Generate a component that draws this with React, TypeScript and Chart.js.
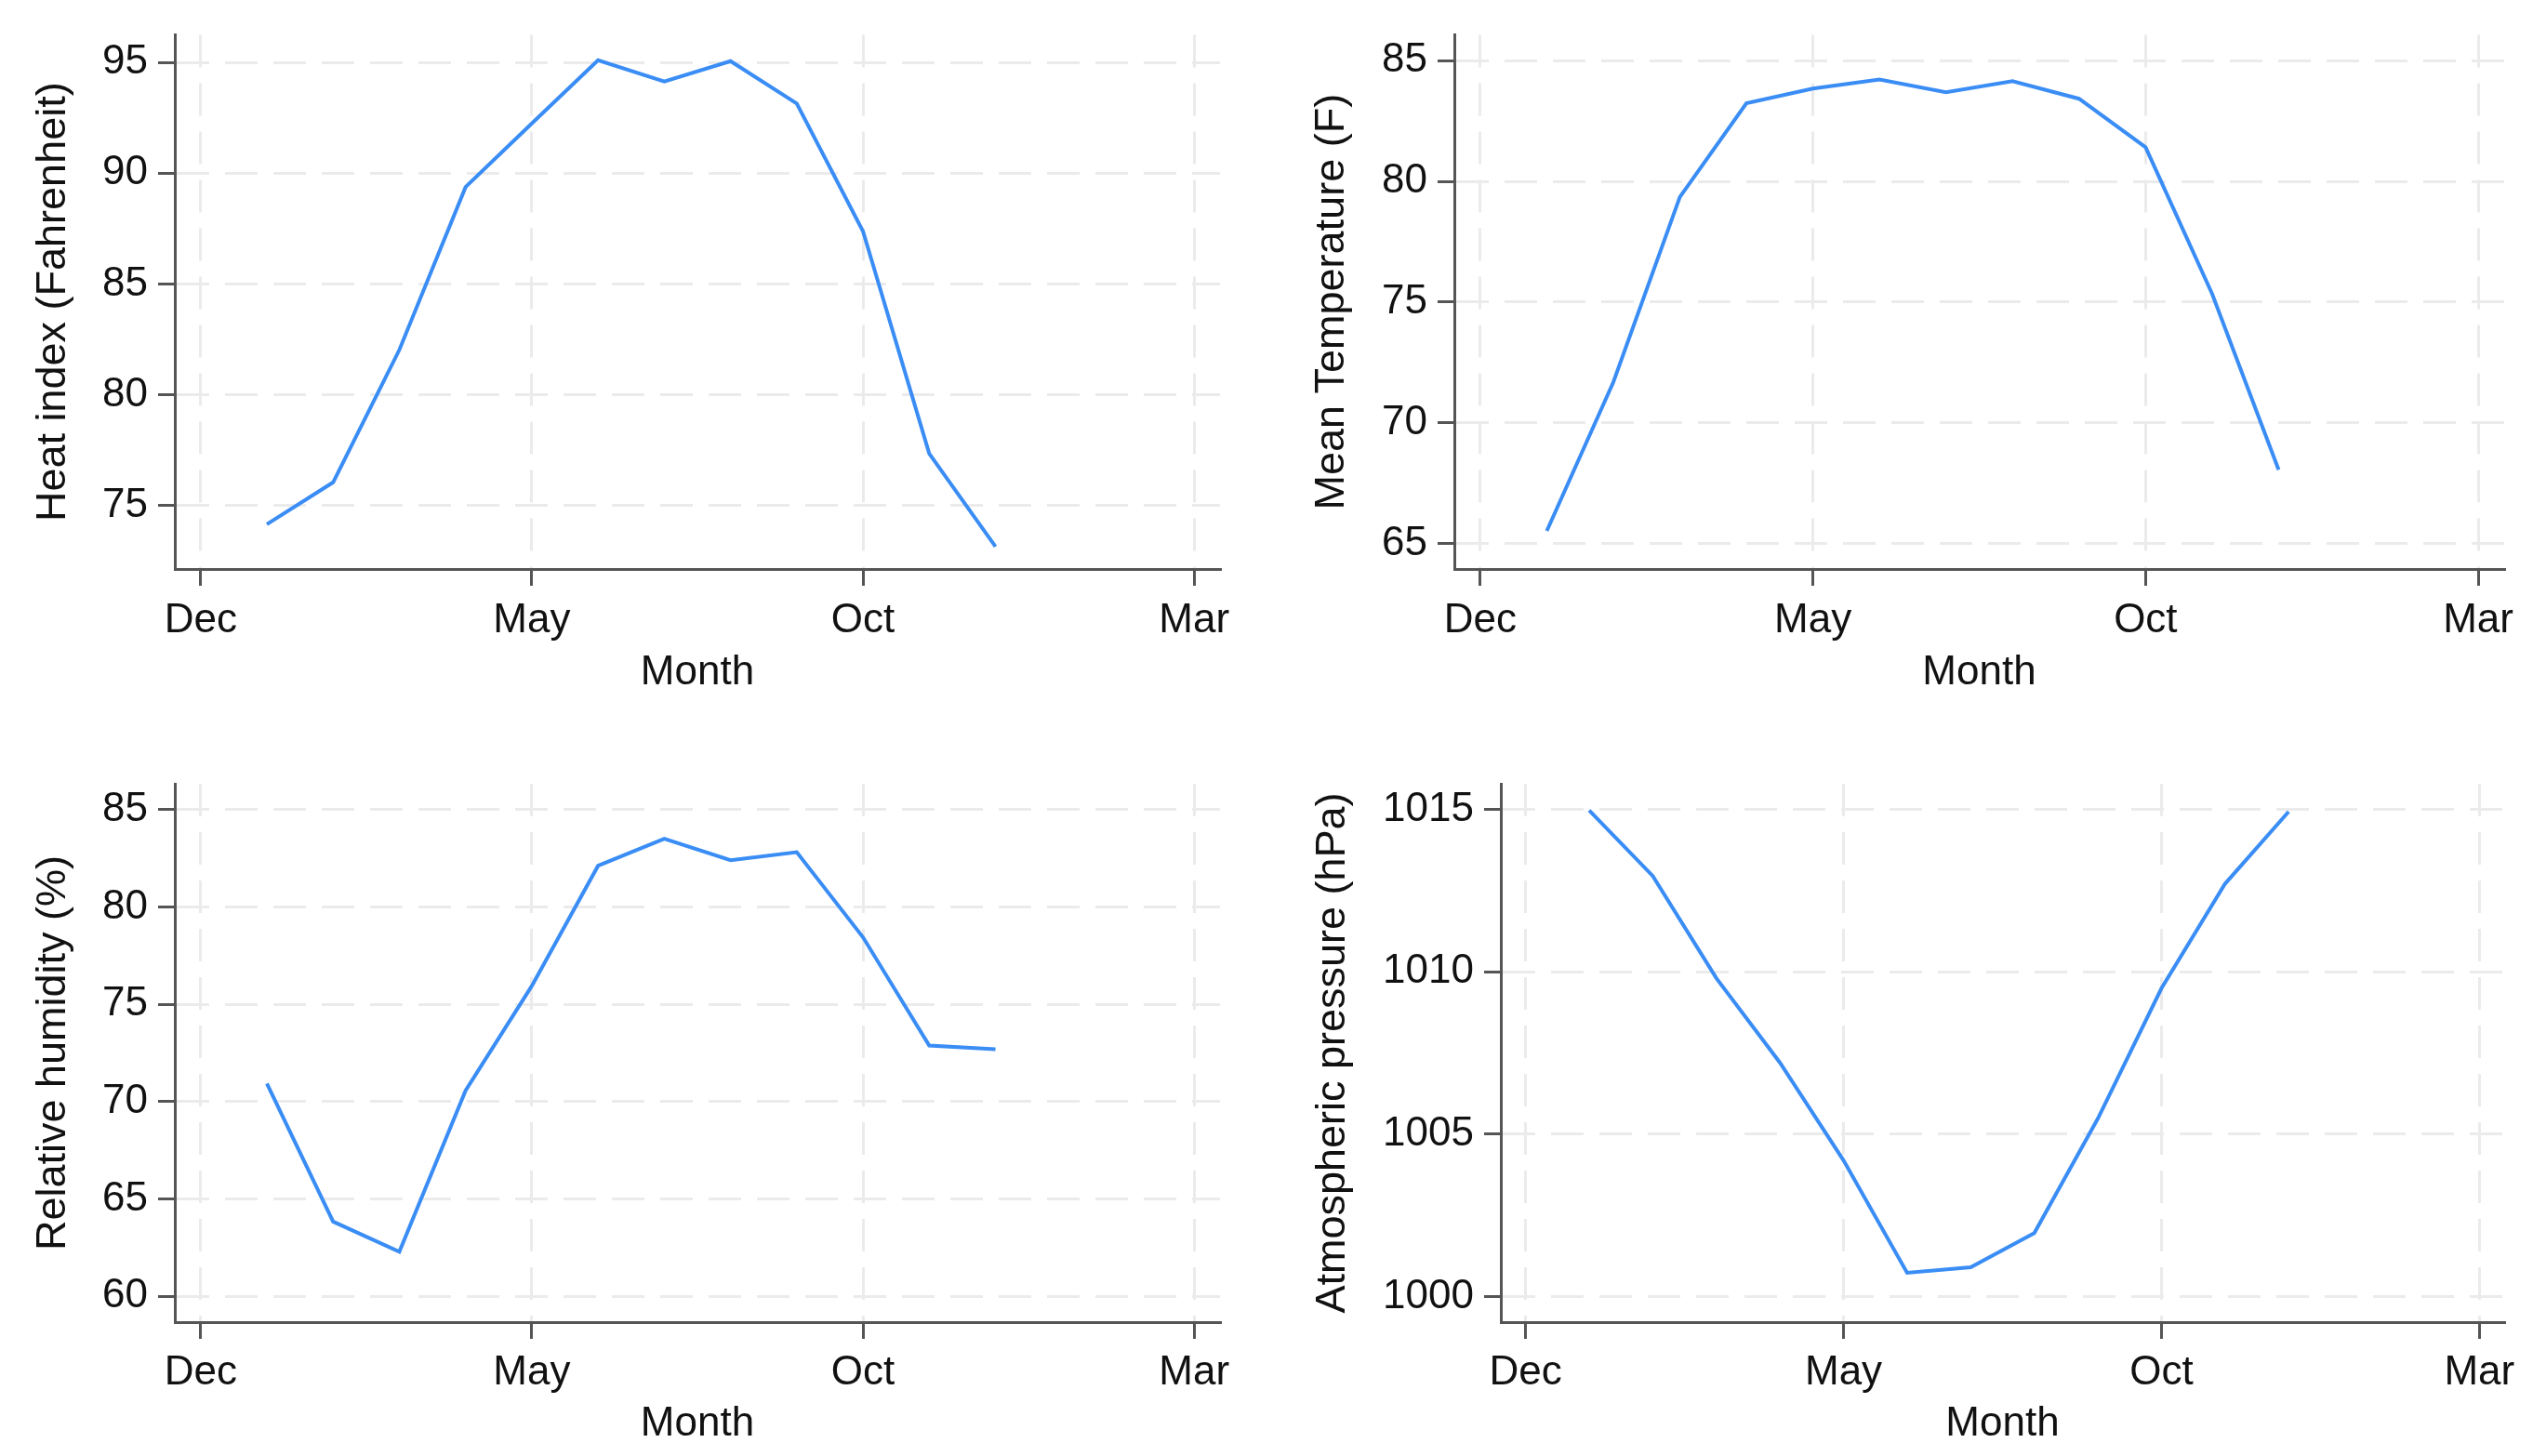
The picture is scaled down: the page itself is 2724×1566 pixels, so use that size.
import React, { useEffect, useRef } from 'react';
import { Chart, registerables } from 'chart.js';

Chart.register(...registerables);

// Month positions: Dec = 0, Jan = 1, ... Dec(next) = 12
const monthPositions = [1, 2, 3, 4, 5, 6, 7, 8, 9, 10, 11, 12];
const xTickValues = [0, 5, 10, 15];
const xTickLabels = ['Dec', 'May', 'Oct', 'Mar'];

const heatIndex = [74.16, 76.05, 82.03, 89.38, 92.25, 95.1, 94.14, 95.06, 93.15, 87.38, 77.35, 73.15];
const meanTemp = [65.52, 71.68, 79.35, 83.23, 83.84, 84.22, 83.69, 84.15, 83.42, 81.41, 75.34, 68.05];
const humidity = [70.93, 63.84, 62.29, 70.57, 75.94, 82.11, 83.5, 82.4, 82.81, 78.44, 72.88, 72.69];
const pressure = [1014.97, 1012.95, 1009.8, 1007.2, 1004.19, 1000.73, 1000.9, 1001.95, 1005.48, 1009.49, 1012.71, 1014.93];

const heatTicks = [75, 80, 85, 90, 95];
const tempTicks = [65, 70, 75, 80, 85];
const humidityTicks = [60, 65, 70, 75, 80, 85];
const pressureTicks = [1000, 1005, 1010, 1015];

const LINE = '#3a8df5';
const GRID = '#ebebeb';
const AXIS = '#555555';
const TEXT = '#111111';
const FONT = "'Liberation Sans', Arial, sans-serif";

type Spec = {
  values: number[];
  yTicks: number[];
  yMin: number;
  yMax: number;
  yTitle: string;
  cx: number; cy: number; cw: number; ch: number;
  left: number; top: number; right: number; bottom: number;
  yTitleX: number;
  xTitleY: number;
  xTickPad: number;
};

const specs: Spec[] = [
  {
    values: heatIndex, yTicks: heatTicks, yMin: 72.14, yMax: 96.25, yTitle: 'Heat index (Fahrenheit)',
    cx: 0, cy: 0, cw: 1362, ch: 783,
    left: 188, top: 33, right: 1312, bottom: 612,
    yTitleX: 58, xTitleY: 724, xTickPad: 11,
  },
  {
    values: meanTemp, yTicks: tempTicks, yMin: 63.94, yMax: 86.07, yTitle: 'Mean Temperature (F)',
    cx: 1362, cy: 0, cw: 1362, ch: 783,
    left: 1564, top: 33, right: 2693, bottom: 612,
    yTitleX: 1433, xTitleY: 724, xTickPad: 11,
  },
  {
    values: humidity, yTicks: humidityTicks, yMin: 58.68, yMax: 86.32, yTitle: 'Relative humidity (%)',
    cx: 0, cy: 783, cw: 1362, ch: 783,
    left: 188, top: 843, right: 1312, bottom: 1422,
    yTitleX: 58, xTitleY: 1532, xTickPad: 10,
  },
  {
    values: pressure, yTicks: pressureTicks, yMin: 999.21, yMax: 1015.79, yTitle: 'Atmospheric pressure (hPa)',
    cx: 1362, cy: 783, cw: 1362, ch: 783,
    left: 1614, top: 843, right: 2693, bottom: 1422,
    yTitleX: 1434, xTitleY: 1532, xTickPad: 10,
  },
];

function Panel({ spec }: { spec: Spec }) {
  const ref = useRef<HTMLCanvasElement | null>(null);
  useEffect(() => {
    const s = spec;
    if (!ref.current) return;
    const tickFont = { family: FONT, size: 44 };
    const chart = new Chart(ref.current, {
      type: 'line',
      data: {
        datasets: [
          {
            data: s.values.map((v, i) => ({ x: monthPositions[i], y: v })),
            borderColor: LINE,
            borderWidth: 4,
            pointRadius: 0,
            fill: false,
            tension: 0,
          },
        ],
      },
      options: {
        animation: false,
        responsive: false,
        maintainAspectRatio: false,
        devicePixelRatio: 1,
        layout: {
          padding: { top: s.top - s.cy, right: s.cx + s.cw - s.right, left: 0, bottom: 0 },
        },
        plugins: { legend: { display: false }, tooltip: { enabled: false } },
        scales: {
          x: {
            type: 'linear',
            position: 'bottom',
            min: -0.39,
            max: 15.39,
            afterBuildTicks: (sc: any) => {
              sc.ticks = xTickValues.map((v) => ({ value: v }));
            },
            afterFit: (sc: any) => {
              sc.height = s.cy + s.ch - s.bottom;
            },
            ticks: {
              callback: (v: any) => {
                const i = xTickValues.indexOf(Number(v));
                return i >= 0 ? xTickLabels[i] : '';
              },
              font: tickFont,
              color: TEXT,
              padding: s.xTickPad,
              maxRotation: 0,
              autoSkip: false,
            },
            grid: {
              color: GRID,
              lineWidth: 3,
              tickColor: AXIS,
              tickLength: 18,
              tickWidth: 3,
              tickBorderDash: [],
            } as any,
            border: { color: AXIS, width: 3, dash: [35, 17] },
            title: {
              display: true,
              text: 'Month',
              color: TEXT,
              font: { family: FONT, size: 44, lineHeight: 1 },
              padding: { top: 0, bottom: s.cy + s.ch - s.xTitleY - 22 },
            },
          },
          y: {
            type: 'linear',
            min: s.yMin,
            max: s.yMax,
            afterBuildTicks: (sc: any) => {
              sc.ticks = s.yTicks.map((v) => ({ value: v }));
            },
            afterFit: (sc: any) => {
              sc.width = s.left - s.cx;
            },
            ticks: {
              callback: (v: any) => String(v),
              font: tickFont,
              color: TEXT,
              padding: 11,
              autoSkip: false,
            },
            grid: {
              color: GRID,
              lineWidth: 3,
              tickColor: AXIS,
              tickLength: 18,
              tickWidth: 3,
              tickBorderDash: [],
            } as any,
            border: { color: AXIS, width: 3, dash: [35, 17] },
            title: {
              display: true,
              text: s.yTitle,
              color: TEXT,
              font: { family: FONT, size: 45, lineHeight: 1 },
              padding: { top: s.yTitleX - s.cx - 22.5, bottom: 0 },
            },
          },
        },
      },
    } as any);
    return () => chart.destroy();
  }, [spec]);
  return (
    <canvas
      ref={ref}
      width={spec.cw}
      height={spec.ch}
      style={{ position: 'absolute', left: spec.cx, top: spec.cy, width: spec.cw, height: spec.ch }}
    />
  );
}

export default function App() {
  return (
    <div style={{ position: 'fixed', left: 0, top: 0, width: 2724, height: 1566, background: '#ffffff' }}>
      {specs.map((s, i) => (
        <Panel key={i} spec={s} />
      ))}
    </div>
  );
}
